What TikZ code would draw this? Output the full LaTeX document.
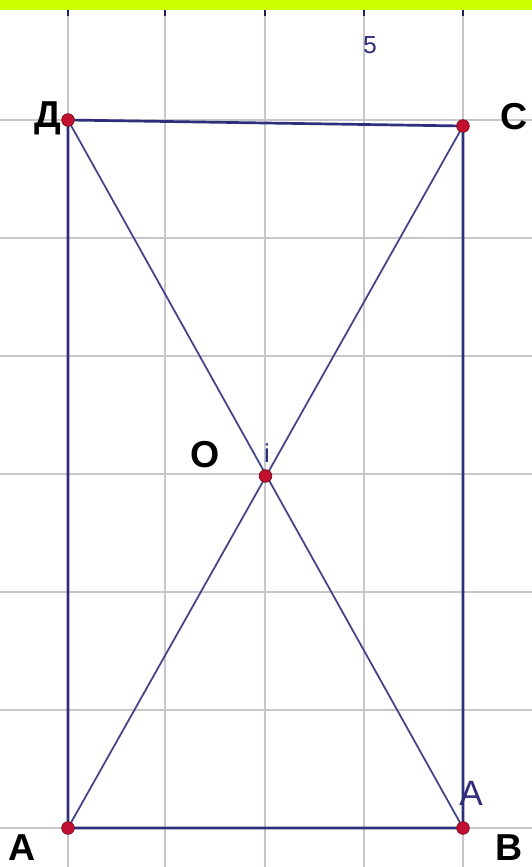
\documentclass[tikz,border=0pt]{standalone}
\usepackage{fontspec}
\setmainfont{Liberation Sans}
\usepackage{xcolor}
\definecolor{limeband}{HTML}{CCFF00}
\definecolor{gridgray}{HTML}{C6C6CC}
\definecolor{navyline}{HTML}{2E2E7C}
\definecolor{pointred}{HTML}{C41030}
\usetikzlibrary{positioning}

\begin{document}
\begin{tikzpicture}[x=0.03cm, y=-0.03cm]
    \tikzstyle{gridline} = [gridgray, line width=0.9pt]
    \tikzstyle{tickmark} = [navyline!70!black, line width=1pt]
    \tikzstyle{side} = [navyline, line width=2.3pt]
    \tikzstyle{diag} = [navyline!90, line width=1.5pt]
    \tikzstyle{pt} = [circle, fill=pointred, draw=pointred!60!black, line width=0.6pt, inner sep=0pt, minimum size=0.38cm]
    \tikzstyle{lbl} = [font=\fontsize{32}{32}\selectfont\bfseries, inner sep=0pt, anchor=base]
    \tikzstyle{smalltext} = [navyline, inner sep=0pt, anchor=base]

    \useasboundingbox (0,0) rectangle (532,867);
    \fill[white] (0,0) rectangle (532,867);

    % grid
    \foreach \x in {68,165,265,364,463} \draw[gridline] (\x,10) -- (\x,867);
    \foreach \y in {120,238,356,474,592,710,828} \draw[gridline] (0,\y) -- (532,\y);
    \foreach \x in {68,165,265,364,463} \draw[tickmark] (\x,10) -- (\x,16);
    \fill[limeband] (0,0) rectangle (532,10);

    % points
    \coordinate (A) at (68,828);
    \coordinate (B) at (463,828);
    \coordinate (C) at (463,126);
    \coordinate (D) at (68,120);
    \coordinate (O) at (265.5,476);

    % sides and diagonals
    \draw[diag] (A) -- (C);
    \draw[diag] (D) -- (B);
    \draw[side] (A) -- (B) -- (C) -- (D) -- cycle;

    \node[pt] (ptA) at (A) {};
    \node[pt] (ptB) at (B) {};
    \node[pt] (ptC) at (C) {};
    \node[pt] (ptD) at (D) {};
    \node[pt] (ptO) at (O) {};

    % labels
    \node[lbl] (lblD) at (48,127) {Д};
    \node[lbl] (lblC) at (514,129) {C};
    \node[lbl] (lblO) at (205,467) {O};
    \node[lbl] (lblA) at (22,860) {A};
    \node[lbl] (lblB) at (509,860) {B};
    \node[smalltext, font=\fontsize{21}{21}\selectfont] (five) at (370,53) {5};
    \node[smalltext, font=\fontsize{30}{30}\selectfont] (angB) at (471,805) {A};
    \node[smalltext, font=\fontsize{22}{22}\selectfont] (angO) at (267,462) {i};
\end{tikzpicture}
\end{document}
